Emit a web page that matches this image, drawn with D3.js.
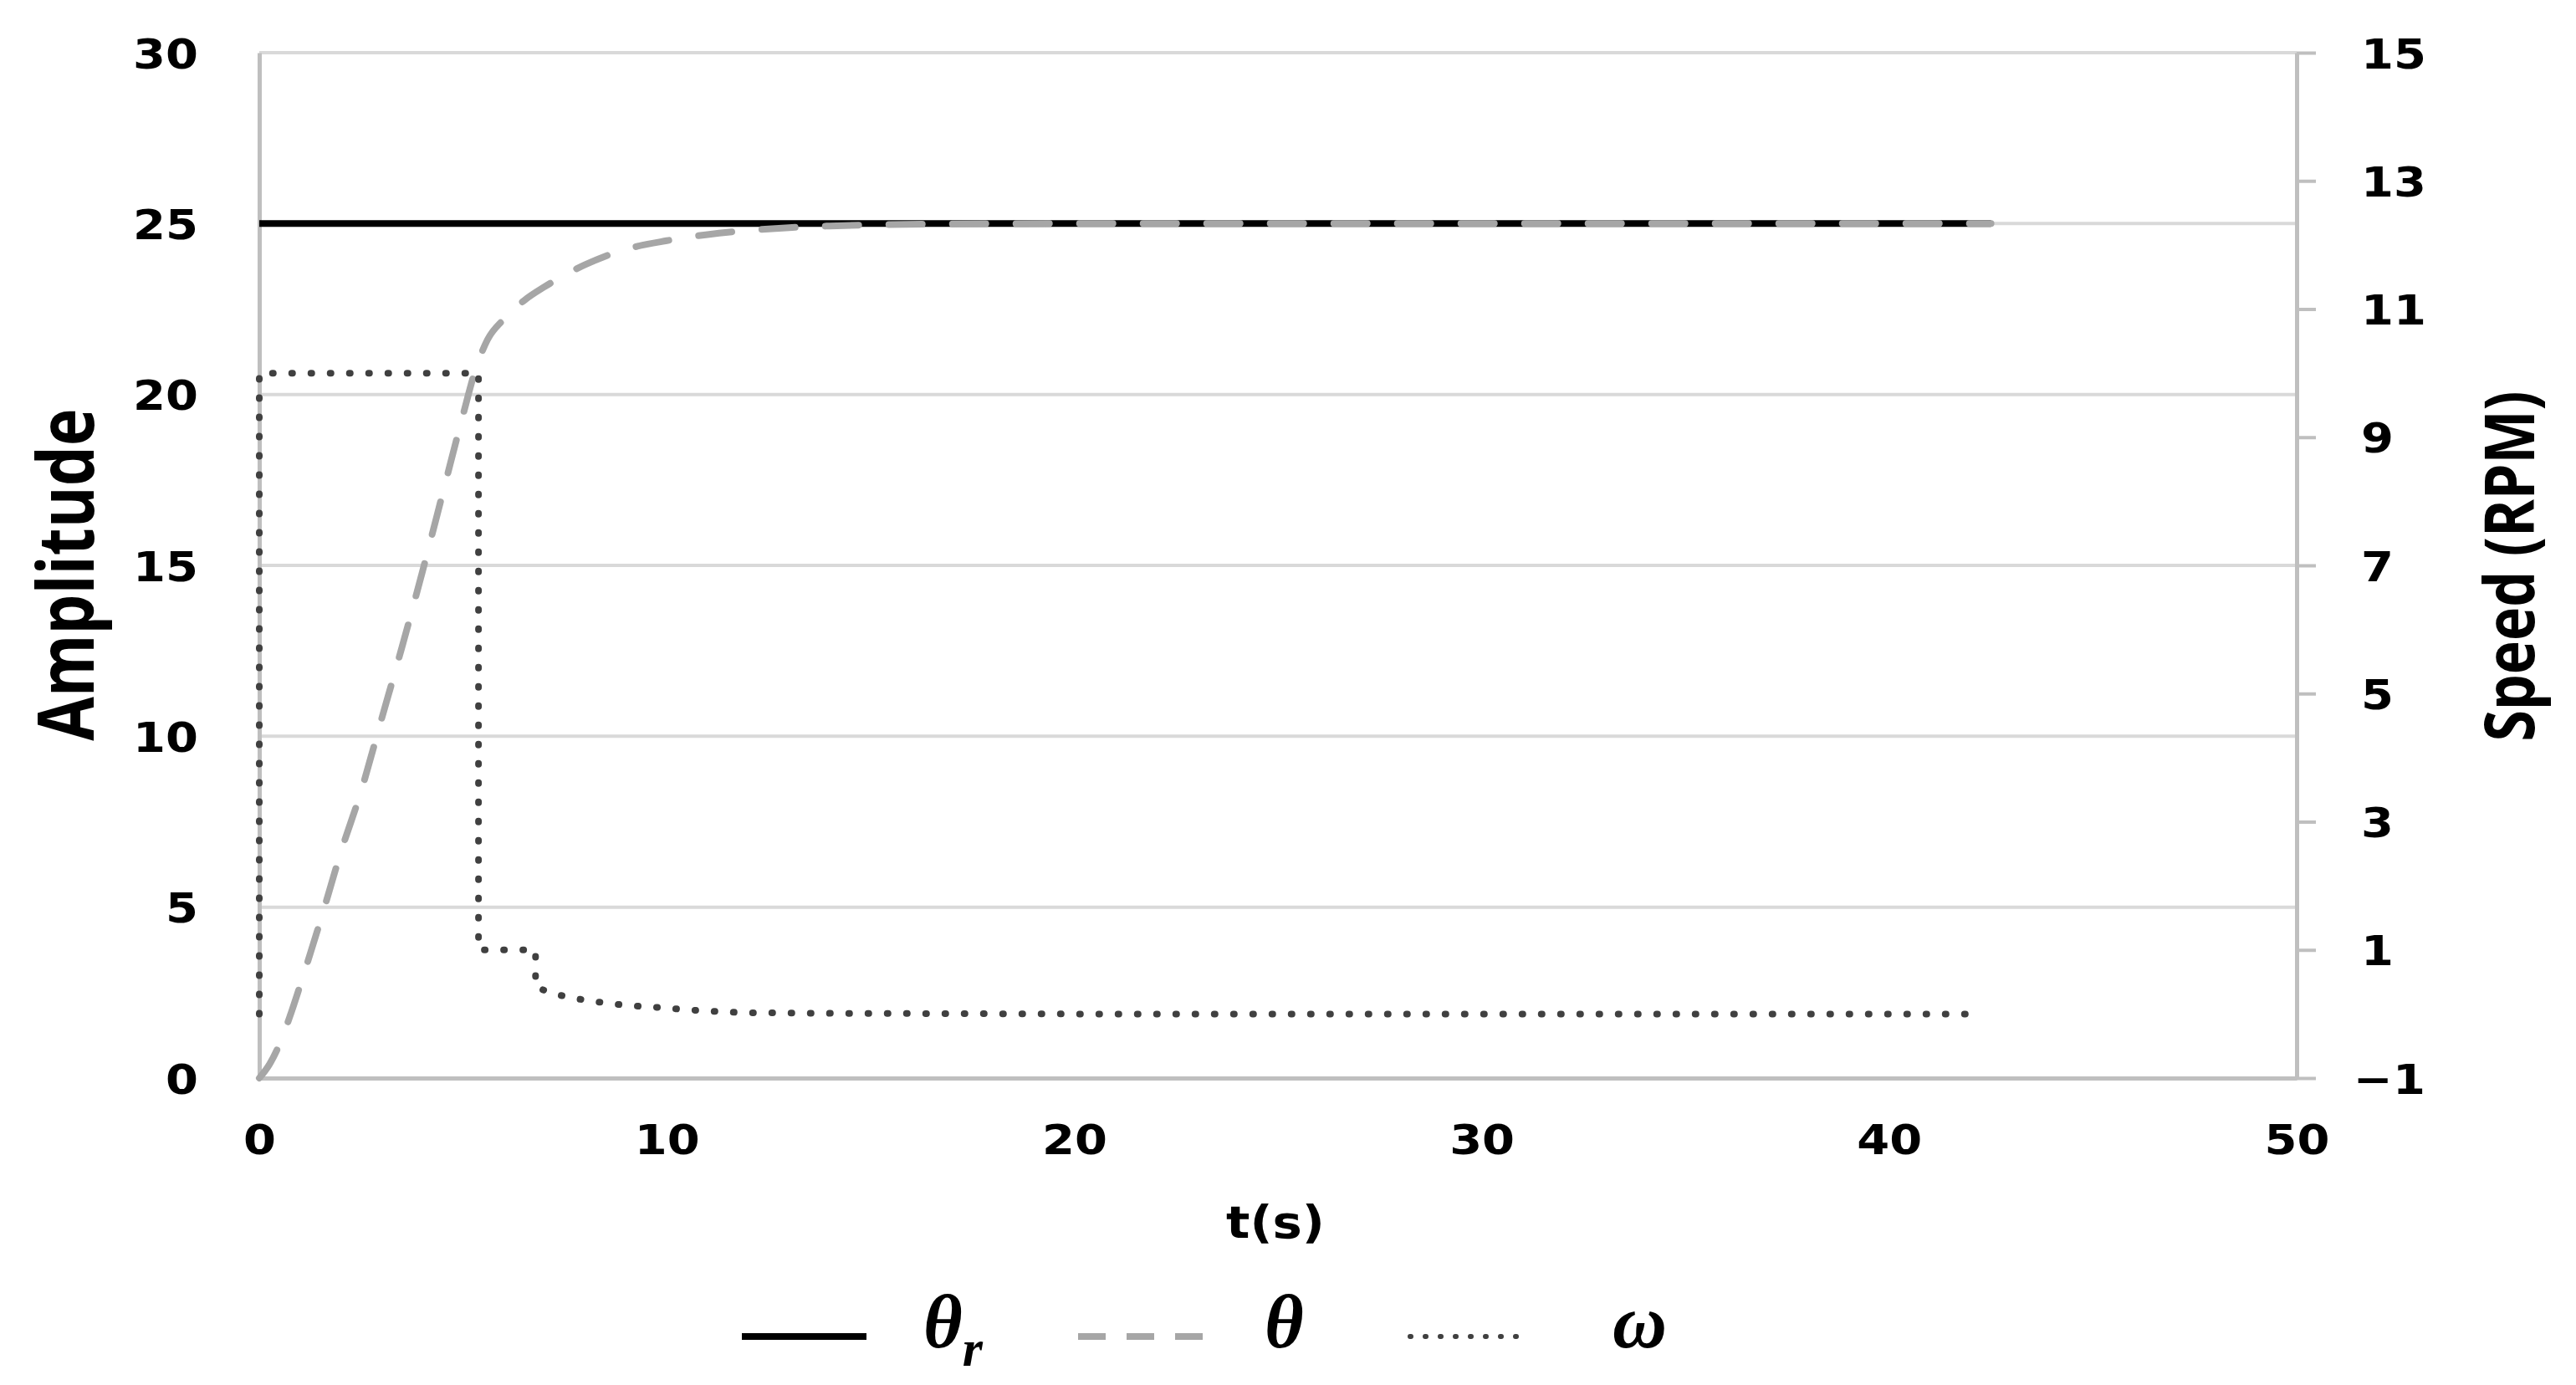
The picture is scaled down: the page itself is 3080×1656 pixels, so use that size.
<!DOCTYPE html>
<html><head><meta charset="utf-8">
<script src="https://cdn.jsdelivr.net/npm/d3@7"></script>
<style>body{margin:0;background:#fff}svg{display:block}</style>
</head><body>
<script>
// ---- data ----
const timeRef = [0, 42.5];
const thetaRefValues = [25, 25];

const timeTheta = [0, 0.25, 0.5, 0.75, 1.0, 1.5, 2.0, 2.5, 3.0, 3.5, 4.0, 4.5, 5.0, 5.3, 5.6, 6.0, 6.5, 7.0, 7.5, 8.0, 8.5, 9.0, 10, 11, 12, 13, 14, 15, 17, 20, 30, 42.5];
const thetaValues = [0, 0.4, 1.0, 1.8, 2.7, 4.6, 6.6, 8.4, 10.5, 12.6, 14.8, 17.1, 19.4, 20.7, 21.6, 22.2, 22.75, 23.15, 23.5, 23.8, 24.05, 24.25, 24.5, 24.68, 24.8, 24.88, 24.93, 24.96, 24.99, 25, 25, 25];

const timeOmega = [0, 0, 5.38, 5.38, 6.78, 6.78, 7.25, 7.77, 8.28, 8.79, 9.33, 9.86, 10.4, 10.9, 11.5, 12.0, 14, 20, 42];
const omegaValues = [0, 10, 10, 1, 1, 0.42, 0.31, 0.24, 0.19, 0.15, 0.12, 0.10, 0.07, 0.05, 0.03, 0.02, 0.01, 0, 0];

const xTicks = [0, 10, 20, 30, 40, 50];
const yLeftTicks = [0, 5, 10, 15, 20, 25, 30];
const yRightTicks = [-1, 1, 3, 5, 7, 9, 11, 13, 15];

const legendSymbols = ["θ", "θ", "ω"];
const legendSubs = ["r", "", ""];

const xTitle = "t(s)";
const yLeftTitle = "Amplitude";
const yRightTitle = "Speed (RPM)";

// ---- layout ----
const W = 3080, H = 1656;
const X0 = 310, X1 = 2746, Y0 = 63, Y1 = 1289;
const SX = 1.12;
const TFS = 50;

const svg = d3.select("body").append("svg").attr("width", W).attr("height", H).style("background", "#fff");

const x = d3.scaleLinear().domain([0, 50]).range([X0, X1]);
const yL = d3.scaleLinear().domain([0, 30]).range([Y1, Y0]);
const yR = d3.scaleLinear().domain([-1, 15]).range([Y1, Y0]);

const tickFont = "'DejaVu Sans', Verdana, sans-serif";

// gridlines
svg.append("g").selectAll("line").data(yLeftTicks.filter(d => d !== 0)).join("line")
  .attr("x1", X0).attr("x2", X1).attr("y1", d => yL(d)).attr("y2", d => yL(d))
  .attr("stroke", "#d9d9d9").attr("stroke-width", 4);

// bottom axis
const gx = svg.append("g").attr("transform", `translate(0,${Y1})`)
  .call(d3.axisBottom(x).tickValues(xTicks).tickSize(0).tickSizeOuter(0));
gx.select(".domain").attr("stroke", "#bfbfbf").attr("stroke-width", 5);
gx.selectAll(".tick text").attr("y", null).attr("dy", "0.36em")
  .attr("transform", `translate(0,73) scale(${SX},1)`)
  .attr("font-family", tickFont).attr("font-weight", "bold").attr("font-size", TFS).attr("fill", "#000");

// left axis
const gyl = svg.append("g").attr("transform", `translate(${X0},0)`)
  .call(d3.axisLeft(yL).tickValues(yLeftTicks).tickSize(0).tickSizeOuter(0));
gyl.select(".domain").attr("stroke", "#bfbfbf").attr("stroke-width", 5);
gyl.selectAll(".tick text").attr("x", null).attr("dy", "0.36em").attr("text-anchor", "end")
  .attr("transform", `translate(-73,0) scale(${SX},1)`)
  .attr("font-family", tickFont).attr("font-weight", "bold").attr("font-size", TFS).attr("fill", "#000");

// right axis
const gyr = svg.append("g").attr("transform", `translate(${X1},0)`)
  .call(d3.axisRight(yR).tickValues(yRightTicks).tickSizeInner(23).tickSizeOuter(0)
    .tickFormat(d => d < 0 ? "\u2212" + Math.abs(d) : String(d)));
gyr.select(".domain").attr("stroke", "#bfbfbf").attr("stroke-width", 5);
gyr.selectAll(".tick line").attr("stroke", "#bfbfbf").attr("stroke-width", 4);
gyr.selectAll(".tick text").attr("x", null).attr("dy", "0.36em").attr("text-anchor", "start")
  .attr("transform", d => `translate(${d < 0 ? 68 : 77},0) scale(${SX},1)`)
  .attr("font-family", tickFont).attr("font-weight", "bold").attr("font-size", TFS).attr("fill", "#000");

// axis titles
svg.append("text").attr("transform", `translate(1525,1480) scale(${SX},1)`)
  .attr("text-anchor", "middle").attr("font-family", tickFont).attr("font-weight", "bold")
  .attr("font-size", 53).attr("fill", "#000").text(xTitle);

svg.append("text").attr("transform", `translate(112,687) scale(1.22,1) rotate(-90)`)
  .attr("text-anchor", "middle").attr("font-family", "'Open Sans', sans-serif").attr("font-weight", 700)
  .attr("font-size", 76).attr("fill", "#000").text(yLeftTitle);

svg.append("text").attr("transform", `translate(3030,677) scale(1.2,1) rotate(-90)`)
  .attr("text-anchor", "middle").attr("font-family", "'Open Sans', sans-serif").attr("font-weight", 700)
  .attr("font-size", 68).attr("fill", "#000").text(yRightTitle);

// series
const refData = timeRef.map((t, i) => [t, thetaRefValues[i]]);
const thetaData = timeTheta.map((t, i) => [t, thetaValues[i]]);
const omegaData = timeOmega.map((t, i) => [t, omegaValues[i]]);

svg.append("path").datum(refData)
  .attr("d", d3.line().x(d => x(d[0])).y(d => yL(d[1])))
  .attr("fill", "none").attr("stroke", "#000").attr("stroke-width", 8);

svg.append("path").datum(thetaData)
  .attr("d", d3.line().curve(d3.curveMonotoneX).x(d => x(d[0])).y(d => yL(d[1])))
  .attr("fill", "none").attr("stroke", "#a6a6a6").attr("stroke-width", 8)
  .attr("stroke-dasharray", "40,36").attr("stroke-linecap", "round");

svg.append("path").datum(omegaData)
  .attr("d", d3.line().x(d => x(d[0])).y(d => yR(d[1])))
  .attr("fill", "none").attr("stroke", "#404040").attr("stroke-width", 8)
  .attr("stroke-dasharray", "1,22").attr("stroke-linecap", "round");

// legend
const LY = 1598;
const legendItems = [
  {x1: 887, x2: 1036, tx: 1104, stroke: "#000", dash: null, cap: "butt", w: 8},
  {x1: 1289, x2: 1438, tx: 1512, stroke: "#a6a6a6", dash: "33,25", cap: "butt", w: 8},
  {x1: 1686, x2: 1828, tx: 1928, stroke: "#404040", dash: "1,17", cap: "round", w: 6}
];
const lg = svg.append("g");
legendItems.forEach((it, i) => {
  lg.append("line").attr("x1", it.x1).attr("x2", it.x2).attr("y1", LY).attr("y2", LY)
    .attr("stroke", it.stroke).attr("stroke-width", it.w)
    .attr("stroke-dasharray", it.dash).attr("stroke-linecap", it.cap);
  const t = lg.append("text").attr("x", it.tx).attr("y", 1611)
    .attr("font-family", "'Liberation Serif', 'DejaVu Serif', serif")
    .attr("font-style", "italic").attr("font-weight", "bold").attr("font-size", 90).attr("fill", "#000");
  t.append("tspan").text(legendSymbols[i]);
  if (legendSubs[i]) t.append("tspan").attr("font-size", 62).attr("dy", 22).text(legendSubs[i]);
});
</script>
</body></html>
